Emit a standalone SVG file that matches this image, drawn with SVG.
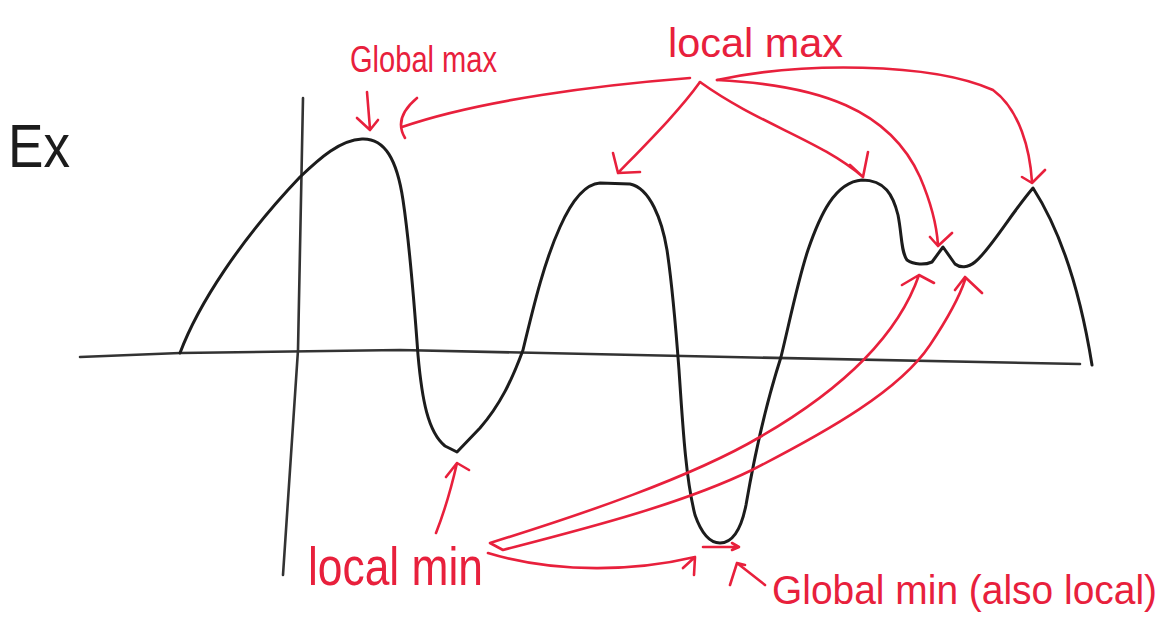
<svg xmlns="http://www.w3.org/2000/svg" width="1174" height="628" viewBox="0 0 1174 628">
<style>
.ink{fill:none;stroke:#1c1c1c;stroke-width:3;stroke-linecap:round;stroke-linejoin:round}
.axis{fill:none;stroke:#333;stroke-width:2.6;stroke-linecap:round}
.red{fill:none;stroke:#e8203c;stroke-width:2.6;stroke-linecap:round;stroke-linejoin:round}
.lbl{font-family:"Liberation Sans",Arial,sans-serif;fill:#e8203c}
</style>
<rect width="1174" height="628" fill="#ffffff"/>
<g id="axes">
<path class="axis" d="M80,357 L180,353 L400,350 L730,357 L1080,364"/>
<path class="axis" d="M303,98 L298,350 L283,575"/>
</g>
<g id="curve">
<path class="ink" d="M180,353 C198,305 240,240 300,177 C320,158 340,140 362,139 C385,138 397,160 403,200 C409,240 414,300 418,355 C422,400 428,432 445,446 L457,452 L480,428 C500,405 512,380 523,350 C535,300 545,260 560,227 C572,200 585,184 600,183 L630,184 C650,188 662,220 667,250 C673,290 676,330 679,370 C683,430 686,480 695,515 C702,535 710,543 720,543 C735,543 742,525 746,505 C752,470 764,410 781,357 C790,320 798,280 808,250 C820,215 835,182 862,180 C885,180 893,195 898,215 C902,235 901,252 907,260 C914,265 925,265 932,262 L943,247 L955,264 C960,268 968,268 975,262 C990,250 1010,215 1033,188 C1060,230 1080,290 1092,365"/>
</g>
<g id="label-ex"><text x="8" y="167" font-family="Liberation Sans, Arial, sans-serif" font-size="62" fill="#1c1c1c" textLength="62" lengthAdjust="spacingAndGlyphs">Ex</text></g>
<g id="label-global-max"><text class="lbl" x="350" y="72" font-size="36" textLength="147" lengthAdjust="spacingAndGlyphs">Global max</text></g>
<g id="label-local-max"><text class="lbl" x="668" y="57" font-size="40" textLength="175" lengthAdjust="spacingAndGlyphs">local max</text></g>
<g id="label-local-min"><text class="lbl" x="308" y="585" font-size="54" textLength="175" lengthAdjust="spacingAndGlyphs">local min</text></g>
<g id="label-global-min"><text class="lbl" x="772" y="604" font-size="40" textLength="385" lengthAdjust="spacingAndGlyphs">Global min (also local)</text></g>
<g id="connectors">
<path class="red" d="M367,92 L370,129 M357,118 L370,130 L378,120"/>
<path class="red" d="M690,78 C600,85 480,100 402,127 M417,98 Q393,118 405,138"/>
<path class="red" d="M700,82 C680,110 650,140 618,173 M613,153 L618,173 L640,172"/>
<path class="red" d="M700,82 C760,125 820,140 863,177 M850,165 L863,177 L868,152"/>
<path class="red" d="M717,80 C820,85 890,110 920,177 C932,205 937,230 938,245 M930,237 L938,246 L952,233"/>
<path class="red" d="M717,80 C800,62 930,62 993,90 C1020,110 1030,150 1032,182 M1022,177 L1032,183 L1045,170"/>
<path class="red" d="M436,533 C445,510 452,485 457,463 M446,477 L457,463 L469,470"/>
<path class="red" d="M919,275 C900,330 850,385 760,437 C690,478 580,515 490,543 L503,550 C580,530 680,505 752,470 C830,430 900,390 930,345 C950,315 960,295 965,280 M902,285 L919,275 L934,283 M955,290 L965,277 L982,293"/>
<path class="red" d="M488,553 C560,575 640,570 695,557 M683,568 L695,557 L694,575"/>
<path class="red" d="M703,547 L738,547 M732,543 L739,547 L732,550"/>
<path class="red" d="M765,585 L737,563 M730,585 L737,563 L745,565"/>
</g>
</svg>
